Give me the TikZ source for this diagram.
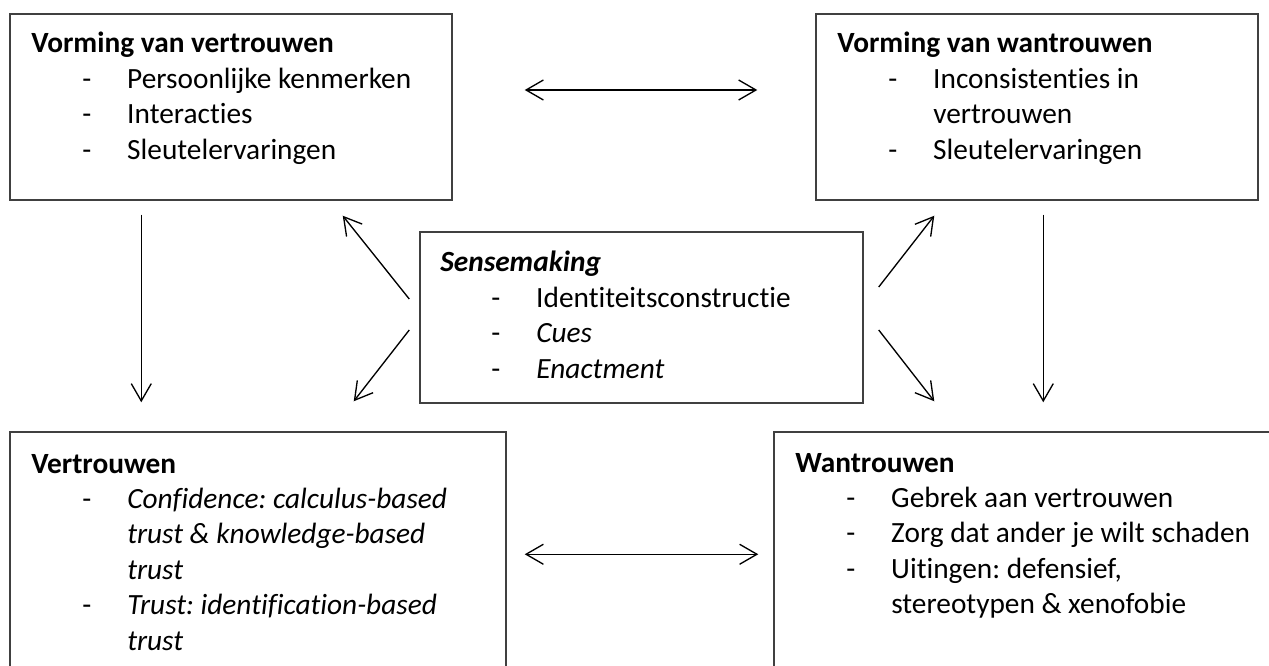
\documentclass[tikz,border=0pt]{standalone}
\usepackage{fontspec}
\setmainfont{Carlito}[Ligatures={NoCommon}]
\usepackage{array}
\usetikzlibrary{arrows.meta}
\definecolor{boxgray}{HTML}{404040}
\newcommand{\dsh}{\hspace*{38.25pt}-}
\frenchspacing
\begin{document}
\begin{tikzpicture}[x=0.75pt,y=-0.75pt,
  box/.style={draw=boxgray,line width=1.1pt,inner sep=0pt},
  txt/.style={anchor=base west,inner sep=0pt,font=\fontsize{22pt}{26.6pt}\selectfont},
  tip/.tip={Straight Barb[length=13pt,width=15pt]},
  arr/.style={line width=1pt,-tip},
  darr/.style={line width=1pt,tip-tip}]
\useasboundingbox (0,0) rectangle (1269,666);
\clip (0,0) rectangle (1269,666);
% boxes
\node[box,minimum width=331.5pt,minimum height=139.5pt] (tl) at (231,107) {};
\node[box,minimum width=331.5pt,minimum height=139.5pt] (tr) at (1037,107) {};
\node[box,minimum width=332.25pt,minimum height=128.25pt] (sm) at (641.5,317.5) {};
\node[box,minimum width=372pt,minimum height=201pt] (bl) at (258,566) {};
\node[box,minimum width=383.25pt,minimum height=186pt] (br) at (1029.5,556) {};
% texts
\node[txt] (tltxt) at (31,53) {\begin{tabular}[t]{@{}p{72pt}@{}l@{}}
\multicolumn{2}{@{}l@{}}{\textbf{Vorming van vertrouwen}}\\
\dsh & Persoonlijke kenmerken\\
\dsh & Interacties\\
\dsh & Sleutelervaringen
\end{tabular}};
\node[txt] (trtxt) at (837,53) {\begin{tabular}[t]{@{}p{72pt}@{}l@{}}
\multicolumn{2}{@{}l@{}}{\textbf{Vorming van wantrouwen}}\\
\dsh & Inconsistenties in\\
 & vertrouwen\\
\dsh & Sleutelervaringen
\end{tabular}};
\node[txt] (smtxt) at (440,272) {\begin{tabular}[t]{@{}p{72pt}@{}l@{}}
\multicolumn{2}{@{}l@{}}{\textbf{\textit{Sensemaking}}}\\
\dsh & Identiteitsconstructie\\
\dsh & \textit{Cues}\\
\dsh & \textit{Enactment}
\end{tabular}};
\node[txt] (bltxt) at (31,473) {\begin{tabular}[t]{@{}p{72pt}@{}l@{}}
\multicolumn{2}{@{}l@{}}{\textbf{Vertrouwen}}\\
\dsh & \textit{Confidence: calculus-based}\\
 & \textit{trust \& knowledge-based}\\
 & \textit{trust}\\
\dsh & \textit{Trust: identification-based}\\
 & \textit{trust}
\end{tabular}};
\node[txt] (brtxt) at (795,472) {\begin{tabular}[t]{@{}p{72pt}@{}l@{}}
\multicolumn{2}{@{}l@{}}{\textbf{Wantrouwen}}\\
\dsh & Gebrek aan vertrouwen\\
\dsh & Zorg dat ander je wilt schaden\\
\dsh & Uitingen: defensief,\\
 & stereotypen \& xenofobie
\end{tabular}};
% arrows
\draw[darr] ([shift={(72,-17)}]tl.east) -- ([shift={(-58,-17)}]tr.west);
\draw[darr] ([shift={(18,123)}]bl.north east) -- ([shift={(-15,123)}]br.north west);
\draw[arr] ([shift={(132,14)}]tl.south west) -- ([shift={(132,-29)}]bl.north west);
\draw[arr] ([shift={(228,14)}]tr.south west) -- ([shift={(270,-29)}]br.north west);
\draw[arr] ([shift={(-10,-18.5)}]sm.west) -- ([shift={(-110,15)}]tl.south east);
\draw[arr] ([shift={(-10,12.5)}]sm.west) -- ([shift={(-153,-30)}]bl.north east);
\draw[arr] ([shift={(15,-30.5)}]sm.east) -- ([shift={(119,15)}]tr.south west);
\draw[arr] ([shift={(15,12.5)}]sm.east) -- ([shift={(161,-30)}]br.north west);
\end{tikzpicture}
\end{document}
